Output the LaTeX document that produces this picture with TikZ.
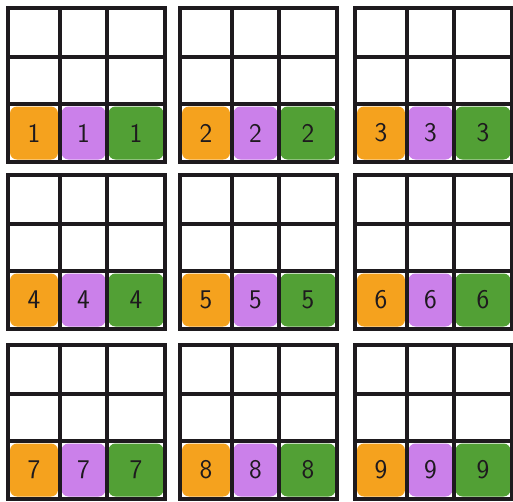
\documentclass[tikz,border=0pt]{standalone}
\usetikzlibrary{positioning}
\definecolor{cellorange}{HTML}{F5A21E}
\definecolor{cellpurple}{HTML}{CB80EA}
\definecolor{cellgreen}{HTML}{52A035}
\definecolor{ink}{HTML}{1E1A1E}
\tikzset{
  gridline/.style={
    line width=3.2pt,
    draw=ink,
    line cap=round
  },
  cell/.style={
    rectangle,
    rounded corners=7pt,
    inner sep=0pt,
    minimum height=53pt,
    text=ink,
    font=\sffamily\fontsize{27}{27}\selectfont
  },
  orangecell/.style={
    cell,
    fill=cellorange,
    minimum width=48pt
  },
  purplecell/.style={
    cell,
    fill=cellpurple,
    minimum width=44pt
  },
  greencell/.style={
    cell,
    fill=cellgreen,
    minimum width=55pt
  }
}

\begin{document}
\begin{tikzpicture}[x=1pt,y=-1pt]
  \useasboundingbox (0,0) rectangle (513,501);
  \fill[white] (0,0) rectangle (513,501);

  \foreach \ox/\oy/\n in {8/8/1, 180/8/2, 355/8/3,
                          8/175/4, 180/175/5, 355/175/6,
                          8/345/7, 180/345/8, 355/345/9} {
    \begin{scope}[shift={(\ox,\oy)}]
      % bottom row: coloured cells
      \node[orangecell] (o\n) at (26,125) {\n};
      \node[purplecell] (p\n) at (75.5,125) {\n};
      \node[greencell]  (g\n) at (128,125) {\n};
      % the 3x3 grid
      \draw[gridline] (0,0) rectangle (157,154);
      \draw[gridline] (52,0) -- (52,154);
      \draw[gridline] (99,0) -- (99,154);
      \draw[gridline] (0,49) -- (157,49);
      \draw[gridline] (0,96) -- (157,96);
    \end{scope}
  }
\end{tikzpicture}
\end{document}
